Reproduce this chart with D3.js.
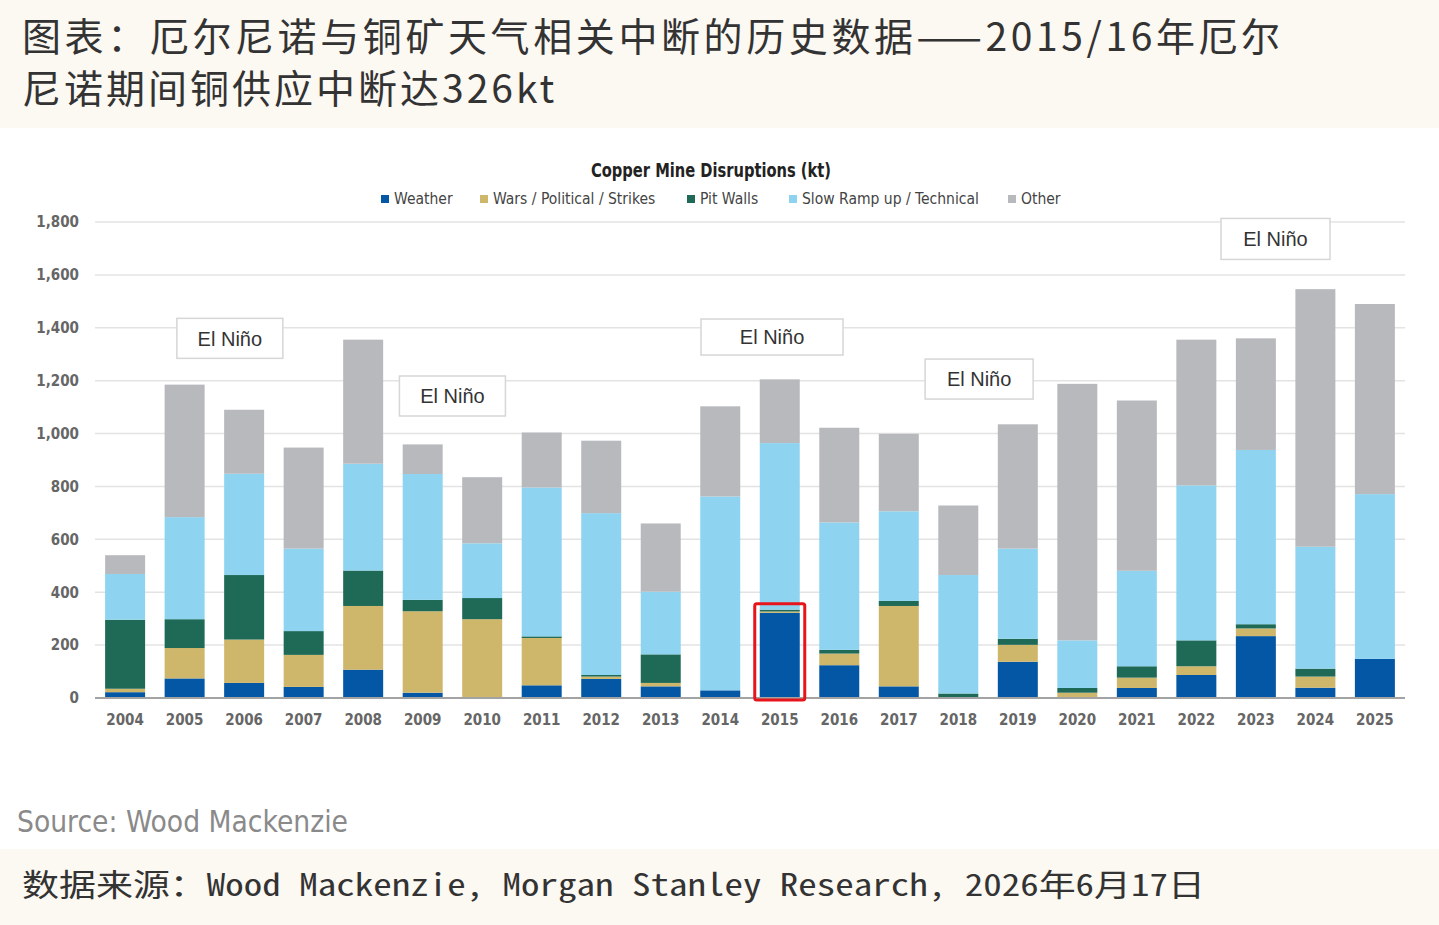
<!DOCTYPE html>
<html>
<head>
<meta charset="utf-8">
<script src="https://cdn.jsdelivr.net/npm/d3@7"></script>
<style>
  body { margin: 0; background: #fff; }
  .cond { font-family: "Liberation Sans Narrow", "DejaVu Sans Condensed", "Roboto Condensed", "Liberation Sans", sans-serif; }
</style>
</head>
<body>
<script>
/* DATA */
const years = ["2004", "2005", "2006", "2007", "2008", "2009", "2010", "2011", "2012", "2013", "2014",
  "2015", "2016", "2017", "2018", "2019", "2020", "2021", "2022", "2023", "2024", "2025"];
const weather = [22, 74, 57, 42, 107, 20, 0, 48, 72, 44, 29, 322, 124, 44, 0, 137, 0, 38, 87, 234, 39, 148];
const wars = [13, 115, 164, 121, 241, 308, 298, 179, 9, 13, 0, 5, 44, 304, 0, 64, 20, 39, 33, 29, 42, 0];
const pitWalls = [261, 109, 244, 90, 134, 43, 80, 6, 6, 108, 0, 7, 14, 19, 17, 23, 18, 43, 98, 16, 30, 0];
const slowRamp = [173, 386, 383, 312, 404, 476, 207, 563, 612, 237, 733, 630, 482, 339, 448, 341, 180, 361, 586, 659, 461, 623];
const other = [71, 501, 242, 382, 469, 112, 250, 208, 274, 258, 341, 241, 358, 293, 263, 470, 970, 644, 551, 422, 974, 719];
const seriesNames = ["Weather", "Wars / Political / Strikes", "Pit Walls", "Slow Ramp up / Technical", "Other"];
const yTicks = [0, 200, 400, 600, 800, 1000, 1200, 1400, 1600, 1800];
const highlightYear = "2015";

/* CONSTANTS */
const width = 1439, height = 925;
const margin = { top: 222, right: 34, bottom: 227, left: 95 }; // plot box 95..1405, 222..698
const colors = ["#0457a4", "#ceb66b", "#1f6a57", "#8ed4f1", "#b8b9bd"];
const keys = ["weather", "wars", "pit", "slow", "other"];

// El Niño boxes: position as bar index (fractional) and value at box centre
const annotations = [
  { at: 1.76, v: 1360, w: 106, h: 40 },
  { at: 5.5, v: 1142, w: 106, h: 40 },
  { at: 10.87, v: 1365, w: 142, h: 36 },
  { at: 14.35, v: 1206, w: 108, h: 40 },
  { at: 19.33, v: 1736, w: 109, h: 41 }
];

const rows = years.map((y, i) => ({
  year: y, weather: weather[i], wars: wars[i], pit: pitWalls[i], slow: slowRamp[i], other: other[i]
}));

const svg = d3.select("body").append("svg")
  .attr("width", width)
  .attr("height", height);

// header / footer bands
svg.append("rect").attr("x", 0).attr("y", 0).attr("width", width).attr("height", 128).attr("fill", "#fcf8f2");
svg.append("rect").attr("x", 0).attr("y", 849).attr("width", width).attr("height", height - 849).attr("fill", "#fcf8f2");

const titleFont = "'Noto Sans CJK SC', 'Noto Sans', sans-serif";
svg.append("text")
  .attr("x", 22).attr("y", 51)
  .attr("font-family", titleFont).attr("font-size", 39).attr("fill", "#333")
  .attr("letter-spacing", 3.6)
  .text("图表：厄尔尼诺与铜矿天气相关中断的历史数据——2015/16年厄尔");
svg.append("text")
  .attr("x", 22).attr("y", 103)
  .attr("font-family", titleFont).attr("font-size", 39).attr("fill", "#333")
  .attr("letter-spacing", 3)
  .text("尼诺期间铜供应中断达326kt");

// scales
const xScale = d3.scaleBand()
  .domain(years)
  .range([margin.left, width - margin.right])
  .paddingInner(0.328)
  .paddingOuter(0.17);

const yScale = d3.scaleLinear()
  .domain([0, 1800])
  .range([height - margin.bottom, margin.top]);

const idxToX = d3.scaleLinear()
  .domain([0, years.length - 1])
  .range([xScale(years[0]) + xScale.bandwidth() / 2, xScale(years[years.length - 1]) + xScale.bandwidth() / 2]);

// gridlines
svg.append("g")
  .selectAll("line")
  .data(yTicks.filter(d => d > 0))
  .join("line")
  .attr("x1", margin.left).attr("x2", width - margin.right)
  .attr("y1", d => yScale(d)).attr("y2", d => yScale(d))
  .attr("stroke", "#e3e3e3").attr("stroke-width", 1.5);

// y axis labels
const yAxis = d3.axisLeft(yScale).tickValues(yTicks).tickFormat(d3.format(",")).tickSize(0).tickPadding(0);
svg.append("g")
  .attr("class", "cond")
  .attr("transform", `translate(79,0)`)
  .call(yAxis)
  .call(g => g.select(".domain").remove())
  .call(g => g.selectAll("text").attr("font-size", 15).attr("font-weight", 600).attr("fill", "#666")
    .attr("font-family", null));

// stacked bars
const stack = d3.stack().keys(keys)(rows);
svg.append("g")
  .selectAll("g")
  .data(stack)
  .join("g")
  .attr("fill", (d, i) => colors[i])
  .selectAll("rect")
  .data(d => d)
  .join("rect")
  .attr("x", d => xScale(d.data.year))
  .attr("width", xScale.bandwidth())
  .attr("y", d => yScale(d[1]))
  .attr("height", d => yScale(d[0]) - yScale(d[1]));

// x axis
const xAxis = d3.axisBottom(xScale).tickSize(0).tickPadding(16);
svg.append("g")
  .attr("class", "cond")
  .attr("transform", `translate(0, ${yScale(0)})`)
  .call(xAxis)
  .call(g => g.select(".domain").attr("stroke", "#a3a3a3").attr("stroke-width", 2)
    .attr("d", `M${margin.left},0H${width - margin.right}`))
  .call(g => g.selectAll("text").attr("font-size", 15).attr("font-weight", 600).attr("fill", "#666")
    .attr("font-family", null));

// highlight around 2015 weather bar
const hi = rows.find(r => r.year === highlightYear);
svg.append("rect")
  .attr("x", xScale(highlightYear) - 5)
  .attr("y", yScale(hi.weather + hi.wars + hi.pit) - 6)
  .attr("width", xScale.bandwidth() + 10)
  .attr("height", yScale(0) - yScale(hi.weather + hi.wars + hi.pit) + 8)
  .attr("rx", 2)
  .attr("fill", "none").attr("stroke", "#e8141b").attr("stroke-width", 3);

// El Niño annotation boxes
const ann = svg.append("g").selectAll("g").data(annotations).join("g")
  .attr("transform", d => `translate(${idxToX(d.at)},${yScale(d.v)})`);
ann.append("rect")
  .attr("x", d => -d.w / 2).attr("y", d => -d.h / 2)
  .attr("width", d => d.w).attr("height", d => d.h)
  .attr("fill", "#fff").attr("stroke", "#d6d6d6").attr("stroke-width", 1.5);
ann.append("text")
  .attr("text-anchor", "middle").attr("dy", "0.36em")
  .attr("font-family", "'Liberation Sans', Arial, sans-serif").attr("font-size", 20).attr("fill", "#333")
  .text("El Niño");

// chart title and legend
svg.append("text")
  .attr("class", "cond")
  .attr("x", 711).attr("y", 177)
  .attr("text-anchor", "middle")
  .attr("font-size", 19).attr("font-weight", "bold").attr("fill", "#222")
  .attr("textLength", 240).attr("lengthAdjust", "spacingAndGlyphs")
  .text("Copper Mine Disruptions (kt)");

const legendX = [381, 480, 687, 789, 1008];
const legend = svg.append("g").attr("class", "cond").selectAll("g").data(seriesNames).join("g")
  .attr("transform", (d, i) => `translate(${legendX[i]},199)`);
legend.append("rect").attr("x", 0).attr("y", -4).attr("width", 8).attr("height", 8)
  .attr("fill", (d, i) => colors[i]);
legend.append("text").attr("x", 13).attr("dy", "0.35em")
  .attr("font-size", 15.5).attr("fill", "#444").text(d => d);

// source lines
svg.append("text")
  .attr("class", "cond")
  .attr("x", 17).attr("y", 832)
  .attr("font-size", 30).attr("fill", "#8a8a8a")
  .attr("textLength", 331).attr("lengthAdjust", "spacingAndGlyphs")
  .text("Source: Wood Mackenzie");

svg.append("text")
  .attr("x", 22).attr("y", 896)
  .attr("font-family", "'Noto Sans Mono CJK SC', 'DejaVu Sans Mono', 'Liberation Mono', 'Noto Sans CJK SC', monospace")
  .attr("font-size", 31).attr("fill", "#333")
  .attr("textLength", 1183).attr("lengthAdjust", "spacingAndGlyphs")
  .text("数据来源：Wood Mackenzie, Morgan Stanley Research, 2026年6月17日");
</script>
</body>
</html>
